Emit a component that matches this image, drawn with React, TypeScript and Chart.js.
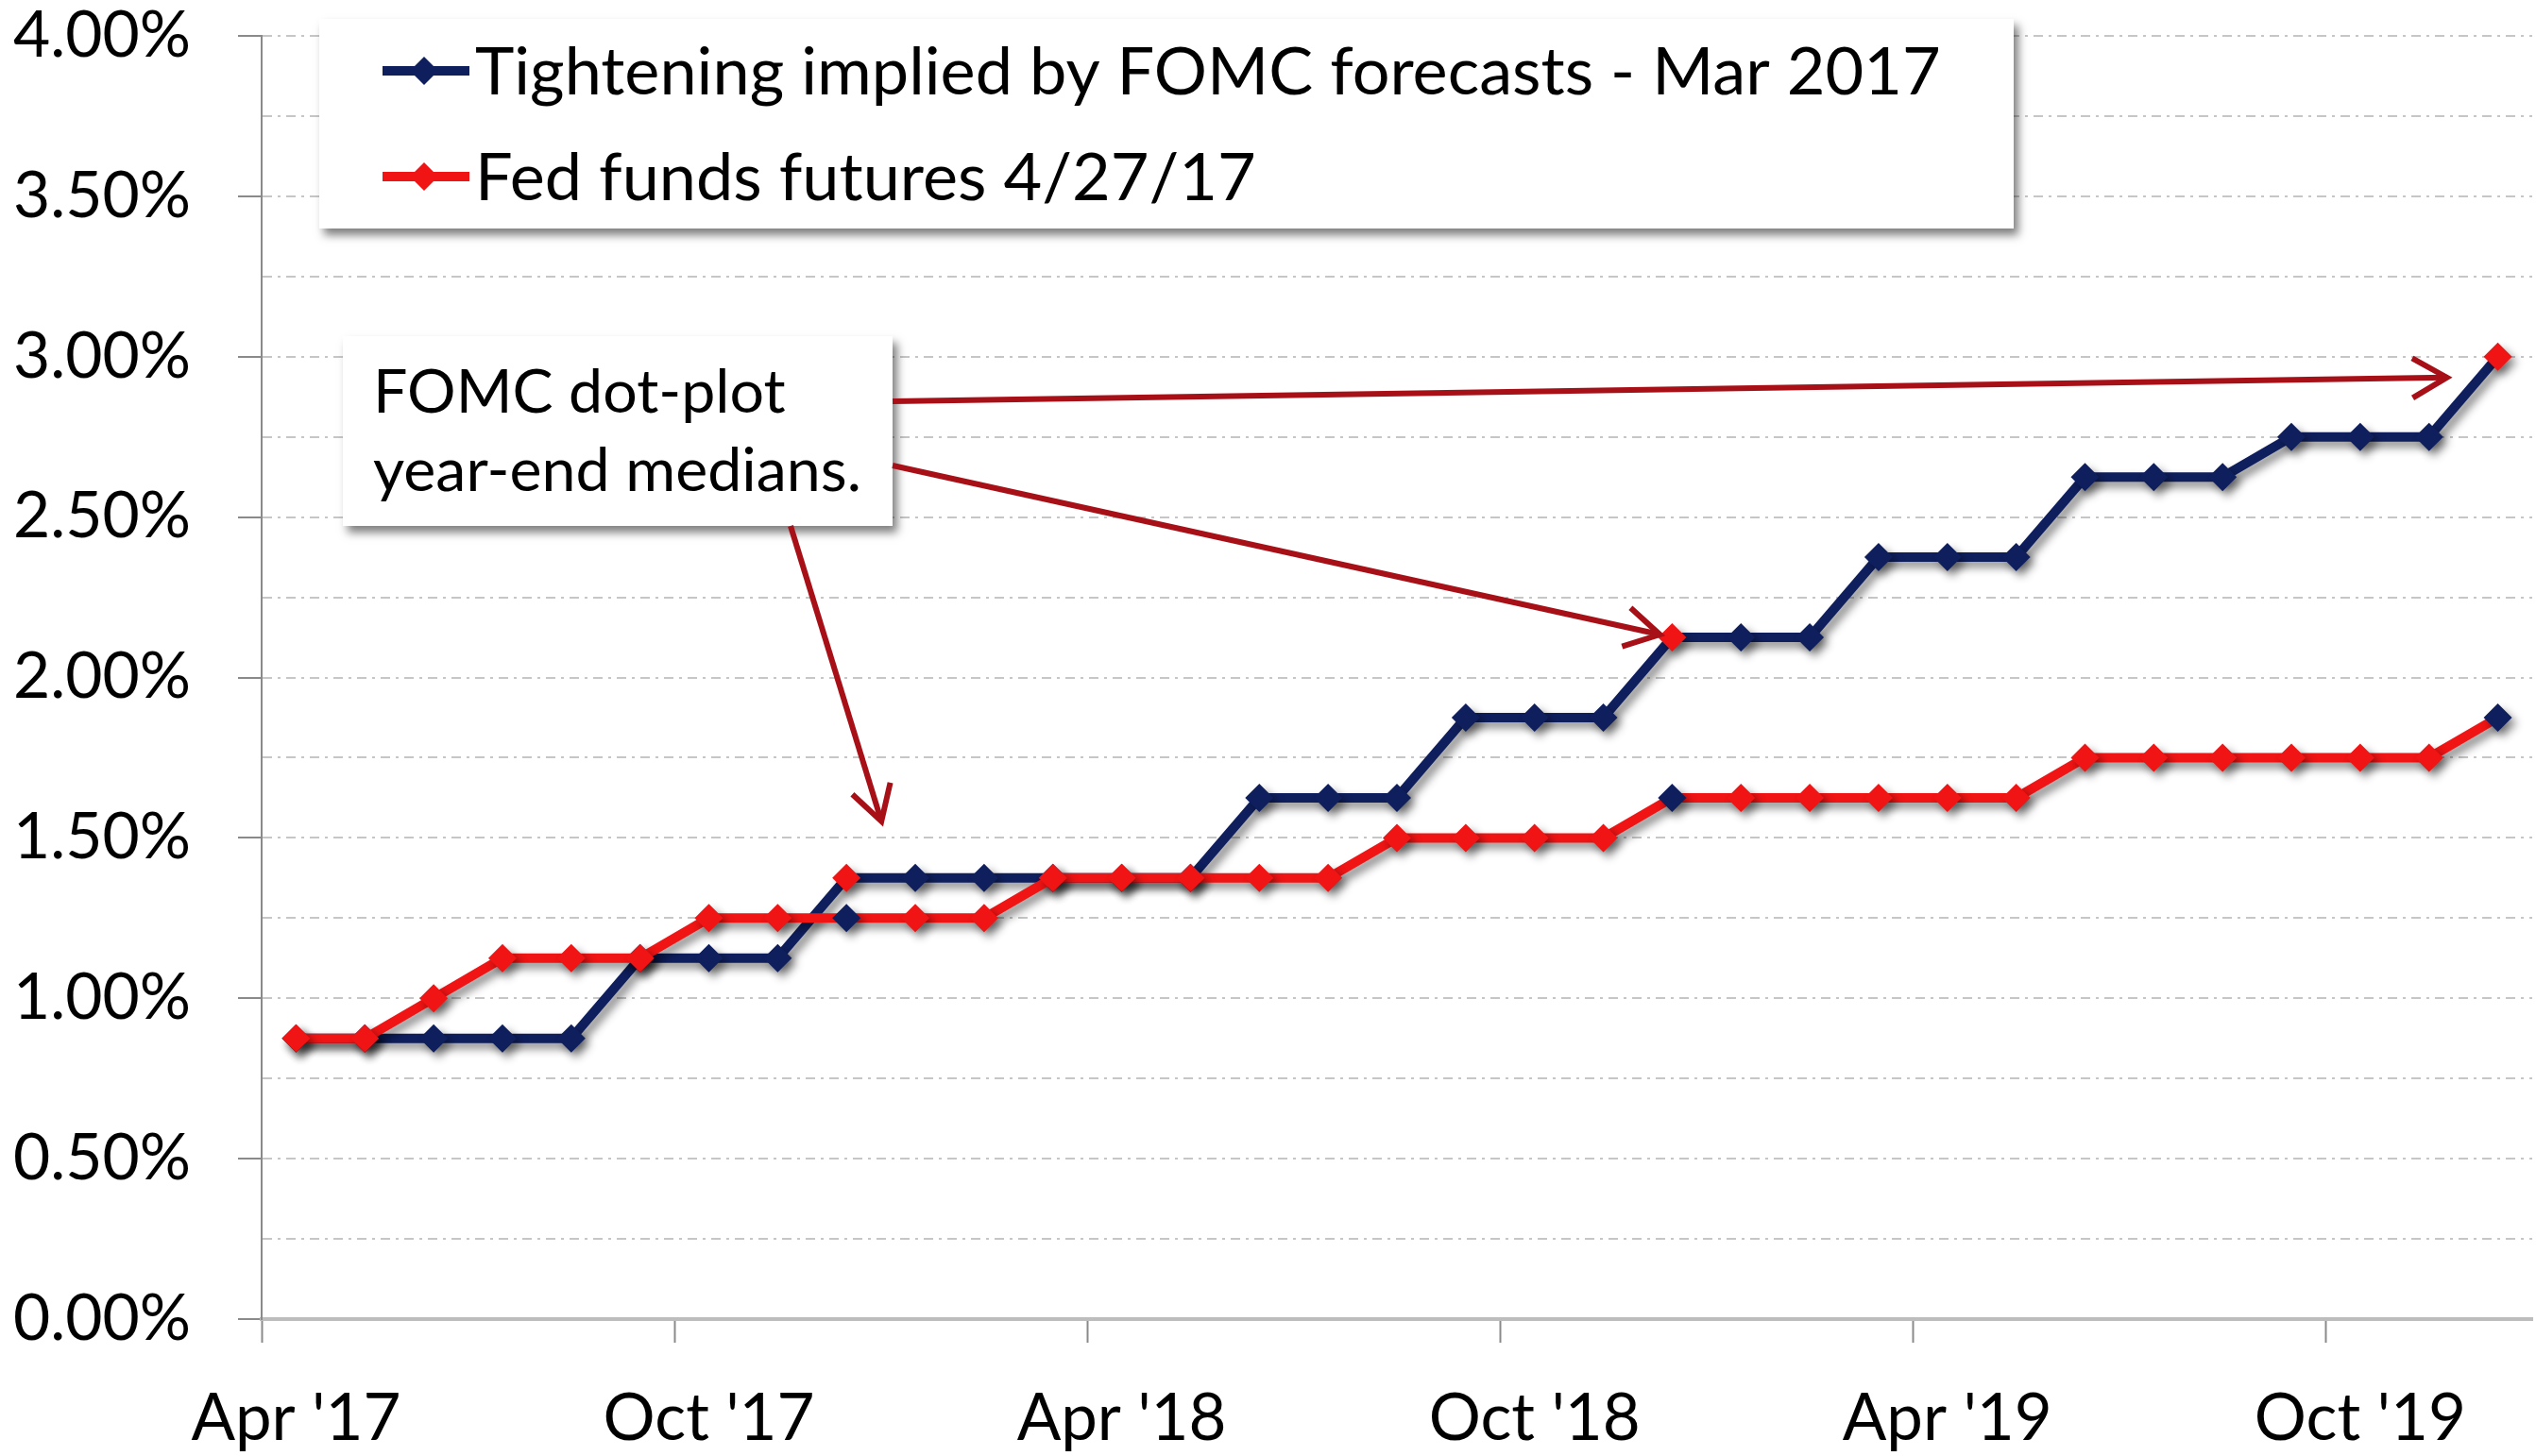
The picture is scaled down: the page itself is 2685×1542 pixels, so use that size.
import React, { useEffect, useRef } from 'react';
import { Chart, registerables } from 'chart.js';

Chart.register(...registerables);

// ---------- data ----------
const months = [
  "Apr '17", "May '17", "Jun '17", "Jul '17", "Aug '17", "Sep '17", "Oct '17", "Nov '17", "Dec '17",
  "Jan '18", "Feb '18", "Mar '18", "Apr '18", "May '18", "Jun '18", "Jul '18", "Aug '18", "Sep '18",
  "Oct '18", "Nov '18", "Dec '18", "Jan '19", "Feb '19", "Mar '19", "Apr '19", "May '19", "Jun '19",
  "Jul '19", "Aug '19", "Sep '19", "Oct '19", "Nov '19", "Dec '19",
];

const fomcPath = [
  0.875, 0.875, 0.875, 0.875, 0.875, 1.125, 1.125, 1.125, 1.375,
  1.375, 1.375, 1.375, 1.375, 1.375, 1.625, 1.625, 1.625, 1.875,
  1.875, 1.875, 2.125, 2.125, 2.125, 2.375, 2.375, 2.375, 2.625,
  2.625, 2.625, 2.75, 2.75, 2.75, 3.0,
];

const futuresPath = [
  0.875, 0.875, 1.0, 1.125, 1.125, 1.125, 1.25, 1.25, 1.25,
  1.25, 1.25, 1.375, 1.375, 1.375, 1.375, 1.375, 1.5, 1.5,
  1.5, 1.5, 1.625, 1.625, 1.625, 1.625, 1.625, 1.625, 1.75,
  1.75, 1.75, 1.75, 1.75, 1.75, 1.875,
];

const seriesNames = ['Tightening implied by FOMC forecasts - Mar 2017', 'Fed funds futures 4/27/17'];
const noteLines = ['FOMC dot-plot', 'year-end medians.'];
const yMin = 0;
const yMax = 4;
const yStep = 0.25;
const labelEvery = 6;

// ---------- styles ----------
const NAVY = '#0f1f5e';
const RED = '#f01414';
const ARROW = '#a81018';
const AXIS_GRAY = '#8a8a8a';
const GRID_GRAY = '#c6c6c6';
const FONT = 'Lato, "Open Sans", sans-serif';
const PLOT_RIGHT = 2681;

const yearEndIdx = months.map((m, i) => (m.startsWith('Dec') ? i : -1)).filter((i) => i >= 0);

function fitSize(text: string, target: number): number {
  const c = document.createElement('canvas').getContext('2d')!;
  c.font = `100px ${FONT}`;
  return (100 * target) / c.measureText(text).width;
}

function drawBox(ctx: CanvasRenderingContext2D, x: number, y: number, w: number, h: number) {
  ctx.save();
  ctx.shadowColor = 'rgba(0,0,0,0.5)';
  ctx.shadowBlur = 9;
  ctx.shadowOffsetX = 5;
  ctx.shadowOffsetY = 7;
  ctx.fillStyle = '#ffffff';
  ctx.fillRect(x, y, w, h);
  ctx.restore();
}

function drawArrow(ctx: CanvasRenderingContext2D, x0: number, y0: number, x1: number, y1: number) {
  const ang = Math.atan2(y1 - y0, x1 - x0);
  const L = 42;
  const spread = Math.PI / 6;
  ctx.save();
  ctx.strokeStyle = ARROW;
  ctx.lineWidth = 6;
  ctx.lineCap = 'butt';
  ctx.lineJoin = 'miter';
  ctx.beginPath();
  ctx.moveTo(x0, y0);
  ctx.lineTo(x1, y1);
  ctx.stroke();
  ctx.beginPath();
  ctx.moveTo(x1 - L * Math.cos(ang - spread), y1 - L * Math.sin(ang - spread));
  ctx.lineTo(x1, y1);
  ctx.lineTo(x1 - L * Math.cos(ang + spread), y1 - L * Math.sin(ang + spread));
  ctx.stroke();
  ctx.restore();
}

function legendMarker(ctx: CanvasRenderingContext2D, cx: number, cy: number, color: string) {
  ctx.save();
  ctx.strokeStyle = color;
  ctx.lineWidth = 10;
  ctx.beginPath();
  ctx.moveTo(cx - 44, cy);
  ctx.lineTo(cx + 48, cy);
  ctx.stroke();
  ctx.fillStyle = color;
  const r = 15;
  ctx.beginPath();
  ctx.moveTo(cx, cy - r);
  ctx.lineTo(cx + r, cy);
  ctx.lineTo(cx, cy + r);
  ctx.lineTo(cx - r, cy);
  ctx.closePath();
  ctx.fill();
  ctx.restore();
}

export default function App() {
  const ref = useRef<HTMLCanvasElement>(null);

  useEffect(() => {
    const canvas = ref.current!;
    const ySize = fitSize('4.00%', 188);
    const xSize = fitSize("Apr '17", 222);
    const legSize = fitSize(seriesNames[0], 1552);
    const noteSize = fitSize(noteLines[1], 517);

    const stretchPlugin = {
      id: 'stretchRight',
      afterLayout(chart: any) {
        const xs = chart.scales.x;
        const d = PLOT_RIGHT - xs.right;
        if (Math.abs(d) > 0.5) {
          xs.right += d;
          xs.width += d;
          chart.chartArea.right += d;
          chart.chartArea.width += d;
          xs.configure();
        }
      },
    };

    const shadowPlugin = {
      id: 'seriesShadow',
      beforeDatasetDraw(chart: any) {
        const ctx = chart.ctx;
        ctx.save();
        ctx.shadowColor = 'rgba(0,0,0,0.45)';
        ctx.shadowBlur = 10;
        ctx.shadowOffsetX = 5;
        ctx.shadowOffsetY = 6;
      },
      afterDatasetDraw(chart: any) {
        chart.ctx.restore();
      },
    };

    const notesPlugin = {
      id: 'notes',
      afterDatasetsDraw(chart: any) {
        const ctx: CanvasRenderingContext2D = chart.ctx;
        const xs = chart.scales.x;
        const ys = chart.scales.y;

        // legend box
        drawBox(ctx, 338, 20, 2132 - 338, 242 - 20);
        legendMarker(ctx, 449, 75, NAVY);
        legendMarker(ctx, 449, 187, RED);
        ctx.save();
        ctx.fillStyle = '#000';
        ctx.textBaseline = 'alphabetic';
        ctx.textAlign = 'left';
        ctx.font = `${legSize}px ${FONT}`;
        ctx.fillText(seriesNames[0], 503, 100);
        ctx.fillText(seriesNames[1], 503, 212);
        ctx.restore();

        // note box
        drawBox(ctx, 363, 356, 945 - 363, 557 - 356);
        ctx.save();
        ctx.fillStyle = '#000';
        ctx.textBaseline = 'alphabetic';
        ctx.textAlign = 'left';
        ctx.font = `${noteSize}px ${FONT}`;
        ctx.fillText(noteLines[0], 395, 437);
        ctx.fillText(noteLines[1], 395, 520);
        ctx.restore();

        // arrows to the year-end medians
        const pt = (i: number) => ({ x: xs.getPixelForValue(i), y: ys.getPixelForValue(fomcPath[i]) });
        const [a, b, c] = yearEndIdx;
        const pa = pt(a);
        const pb = pt(b);
        const pc = pt(c);
        drawArrow(ctx, 945, 425, pc.x - 54, pc.y + 22);
        drawArrow(ctx, 945, 493, pb.x - 13, pb.y - 3);
        drawArrow(ctx, 837, 557, pa.x + 37, pa.y - 60);
      },
    };

    const chart = new Chart(canvas, {
      type: 'line',
      data: {
        labels: months,
        datasets: [
          {
            label: seriesNames[1],
            data: futuresPath,
            borderColor: RED,
            backgroundColor: RED,
            borderWidth: 10,
            pointStyle: 'rectRot',
            pointRadius: 15,
            pointBorderWidth: 0,
            pointBackgroundColor: (c: any) => (yearEndIdx.includes(c.dataIndex) ? NAVY : RED),
            tension: 0,
            order: 0,
          },
          {
            label: seriesNames[0],
            data: fomcPath,
            borderColor: NAVY,
            backgroundColor: NAVY,
            borderWidth: 10,
            pointStyle: 'rectRot',
            pointRadius: 15,
            pointBorderWidth: 0,
            pointBackgroundColor: (c: any) => (yearEndIdx.includes(c.dataIndex) ? RED : NAVY),
            tension: 0,
            order: 1,
          },
        ],
      },
      options: {
        responsive: false,
        animation: false,
        devicePixelRatio: 1,
        events: [],
        layout: { padding: { top: 38, right: 4, left: 0, bottom: 0 } },
        plugins: { legend: { display: false }, tooltip: { enabled: false } },
        scales: {
          x: {
            type: 'category',
            offset: true,
            grid: {
              display: true,
              offset: true,
              drawOnChartArea: false,
              drawTicks: true,
              tickLength: 25,
              tickWidth: 2,
              color: 'rgba(0,0,0,0)',
              tickColor: (c: any) =>
                c.index !== undefined && c.index % labelEvery === 0 ? AXIS_GRAY : 'rgba(0,0,0,0)',
            },
            border: { display: true, color: '#bdbdbd', width: 4 },
            ticks: {
              autoSkip: false,
              maxRotation: 0,
              minRotation: 0,
              padding: 46,
              color: '#000',
              font: { family: FONT, size: xSize, lineHeight: 1 },
              callback: (_v: any, i: number) => (i % labelEvery === 0 ? months[i] : ''),
            },
            afterFit: (s: any) => {
              s.height = 145;
              s.paddingLeft = 0;
              s.paddingRight = 0;
            },
          },
          y: {
            min: yMin,
            max: yMax,
            ticks: {
              stepSize: yStep,
              padding: 50,
              color: '#000',
              font: { family: FONT, size: ySize, lineHeight: 1 },
              callback: (v: any) => (Math.round(v * 100) % 50 === 0 ? Number(v).toFixed(2) + '%' : ''),
            },
            grid: {
              color: (c: any) => (c.tick && c.tick.value === 0 ? 'rgba(0,0,0,0)' : GRID_GRAY),
              lineWidth: 2,
              drawTicks: true,
              tickLength: 25,
              tickWidth: 2,
              tickColor: (c: any) =>
                c.tick && Math.round(c.tick.value * 100) % 50 === 0 ? AXIS_GRAY : 'rgba(0,0,0,0)',
            },
            border: { display: true, color: AXIS_GRAY, width: 2, dash: [10, 6, 3, 6] },
            afterFit: (s: any) => {
              s.width = 277;
              s.paddingTop = 0;
              s.paddingBottom = 0;
            },
          },
        },
      } as any,
      plugins: [stretchPlugin, shadowPlugin, notesPlugin],
    });
    return () => chart.destroy();
  }, []);

  return (
    <div style={{ position: 'fixed', left: 0, top: 0, width: 2685, height: 1542, background: '#fff' }}>
      <canvas ref={ref} width={2685} height={1542} style={{ display: 'block', width: 2685, height: 1542 }} />
    </div>
  );
}
